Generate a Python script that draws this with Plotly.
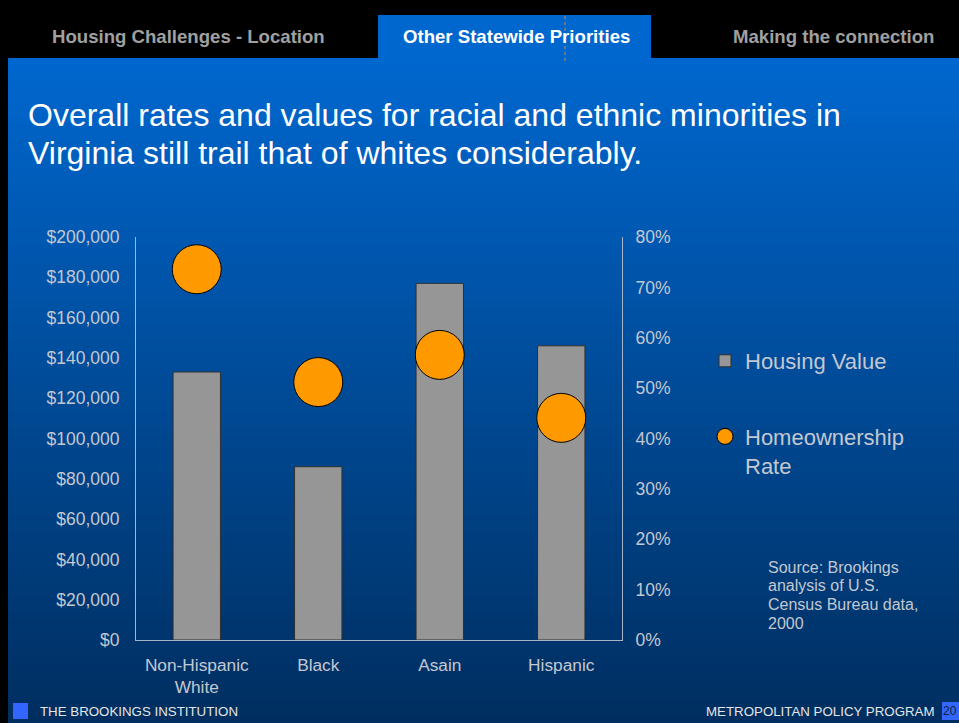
import plotly.graph_objects as go

W, H = 959, 723

categories = ["Non-Hispanic<br>White", "Black", "Asain", "Hispanic"]
housing_value = [133000, 86000, 177000, 146000]
homeownership_rate = [73.6, 51.2, 56.6, 44.1]

left_tick_values = [0, 20000, 40000, 60000, 80000, 100000, 120000, 140000, 160000, 180000, 200000]
left_tick_labels = ["$0", "$20,000", "$40,000", "$60,000", "$80,000", "$100,000",
                    "$120,000", "$140,000", "$160,000", "$180,000", "$200,000"]
right_tick_values = [0, 10, 20, 30, 40, 50, 60, 70, 80]
right_tick_labels = ["0%", "10%", "20%", "30%", "40%", "50%", "60%", "70%", "80%"]

title_lines = ["Overall rates and values for racial and ethnic minorities in",
               "Virginia still trail that of whites considerably."]
source_lines = ["Source: Brookings", "analysis of U.S.", "Census Bureau data,", "2000"]
tabs = ["Housing Challenges - Location", "Other Statewide Priorities", "Making the connection"]

FONT = "Arial, Liberation Sans, sans-serif"
LABEL = "#C4C8D0"
AXIS = "#A8B4C8"

def px(x):
    return x / W

def py(y):
    return 1 - y / H

fig = go.Figure()
fig.add_trace(go.Bar(
    x=categories, y=housing_value, name="Housing Value", legendgroup="a",
    marker=dict(color="#969696", line=dict(color="#303030", width=1)),
    width=0.39, yaxis="y",
))
fig.add_trace(go.Scatter(
    x=categories, y=homeownership_rate, name="Homeownership<br>Rate", legendgroup="b",
    mode="markers", yaxis="y2",
    marker=dict(color="#FF9900", size=49, line=dict(color="#000000", width=1)),
))

shapes = []
# gradient background
top, bottom = 58, H
n = 90
c0 = (0, 103, 206)
c1 = (0, 46, 96)
for i in range(n):
    y0 = top + (bottom - top) * i / n
    y1 = min(bottom, top + (bottom - top) * (i + 1) / n + 2)
    t = i / (n - 1)
    c = tuple(round(c0[k] + (c1[k] - c0[k]) * t) for k in range(3))
    shapes.append(dict(type="rect", xref="paper", yref="paper", layer="below",
                       x0=px(8), x1=1, y0=py(y1), y1=py(y0), line=dict(width=0),
                       fillcolor="rgb(%d,%d,%d)" % c))
# active tab
shapes.append(dict(type="rect", xref="paper", yref="paper", layer="below",
                   x0=px(378), x1=px(651), y0=py(60), y1=py(15), line=dict(width=0),
                   fillcolor="rgb(0,103,206)"))
# dotted line
shapes.append(dict(type="line", xref="paper", yref="paper",
                   x0=px(565), x1=px(565), y0=py(61), y1=py(14),
                   line=dict(color="#C89050", width=1, dash="dot")))
# footer squares
shapes.append(dict(type="rect", xref="paper", yref="paper",
                   x0=px(13), x1=px(28), y0=py(719), y1=py(703), line=dict(width=0),
                   fillcolor="#3366FF"))
shapes.append(dict(type="rect", xref="paper", yref="paper",
                   x0=px(942), x1=px(959), y0=py(720), y1=py(702), line=dict(width=0),
                   fillcolor="#3366FF"))

def ann(text, x, y, size, color, xanchor="left", bold=False):
    return dict(text=("<b>%s</b>" % text) if bold else text, x=px(x), y=py(y),
                xref="paper", yref="paper", xanchor=xanchor, yanchor="middle",
                align="left", showarrow=False,
                font=dict(family=FONT, size=size, color=color))

annotations = [
    ann(title_lines[0], 26, 115, 32, "#FFFFFF"),
    ann(title_lines[1], 26, 153, 32, "#FFFFFF"),
    ann(tabs[0], 188, 36, 18.6, "#A0A0A0", "center", True),
    ann(tabs[1], 516, 36, 18.6, "#FFFFFF", "center", True),
    ann(tabs[2], 833, 36, 18.6, "#A0A0A0", "center", True),
    ann("THE BROOKINGS INSTITUTION", 38, 711, 13.3, "#E6E6E6"),
    ann("METROPOLITAN POLICY PROGRAM", 937, 711, 13.3, "#E6E6E6", "right"),
    ann("20", 950, 711, 12, "#102040", "center"),
]
for i, line in enumerate(source_lines):
    annotations.append(ann(line, 766, 567 + 18.7 * i, 16, LABEL))

fig.update_layout(
    width=W, height=H,
    margin=dict(l=0, r=0, t=0, b=0, pad=0, autoexpand=False),
    paper_bgcolor="#000000", plot_bgcolor="rgba(0,0,0,0)",
    font=dict(family=FONT, color=LABEL),
    shapes=shapes, annotations=annotations,
    xaxis=dict(domain=[px(136), px(622)], showline=True, linecolor=AXIS, linewidth=1,
               showgrid=False, ticks="", tickfont=dict(size=17.3, color=LABEL),
               ticklabelstandoff=9, fixedrange=True, automargin=False),
    yaxis=dict(domain=[py(640), py(237)], range=[0, 200000],
               tickmode="array", tickvals=left_tick_values, ticktext=left_tick_labels,
               showline=True, linecolor=AXIS, linewidth=1,
               showgrid=False, zeroline=False, ticks="", tickfont=dict(size=17.5, color=LABEL),
               ticklabelstandoff=12, automargin=False),
    yaxis2=dict(overlaying="y", side="right", range=[0, 80],
                tickmode="array", tickvals=right_tick_values, ticktext=right_tick_labels,
                showline=True, linecolor=AXIS, linewidth=1,
                showgrid=False, zeroline=False, ticks="", tickfont=dict(size=17.5, color=LABEL),
                ticklabelstandoff=9, automargin=False),
    legend=dict(x=px(705), y=py(340), xanchor="left", yanchor="top",
                font=dict(family=FONT, size=22, color=LABEL), bgcolor="rgba(0,0,0,0)",
                traceorder="grouped", tracegroupgap=44, valign="top"),
    showlegend=True,
)

fig.write_html("out.html")
